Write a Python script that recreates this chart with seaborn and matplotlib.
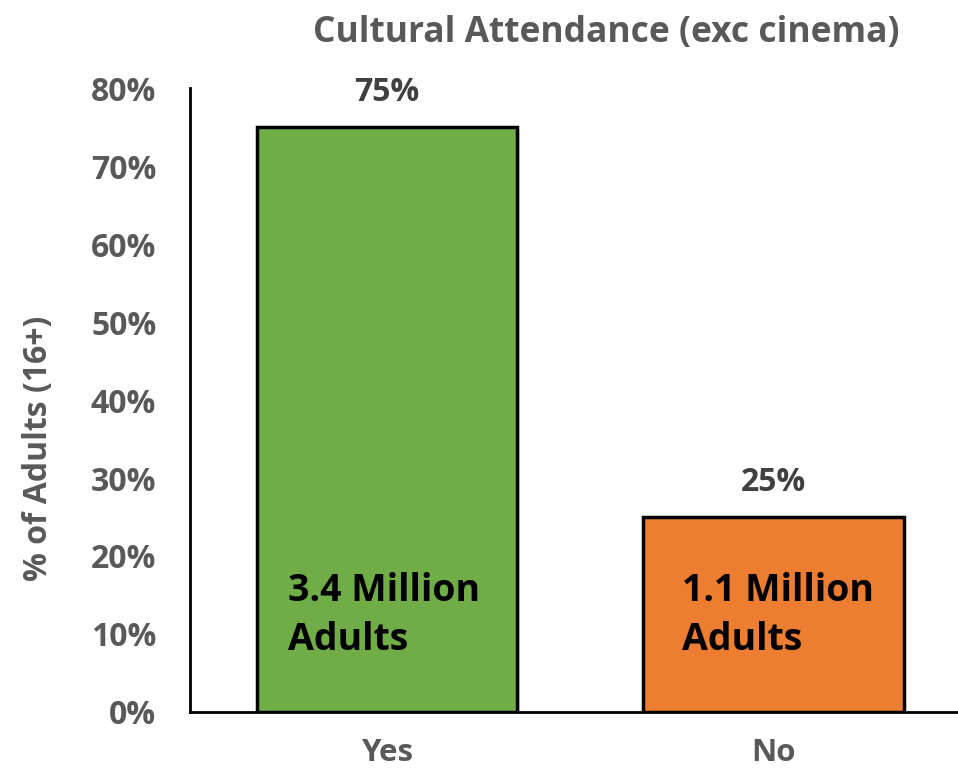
import matplotlib
matplotlib.use("Agg")
import matplotlib.pyplot as plt
import matplotlib.patheffects as pe
import seaborn as sns
import pandas as pd

categories = ["Yes", "No"]
percent_values = [75, 25]
value_labels = ["75%", "25%"]
inner_labels = ["3.4 Million\nAdults", "1.1 Million\nAdults"]
bar_colors = ["#70AD47", "#ED7D31"]
y_ticks = [0, 10, 20, 30, 40, 50, 60, 70, 80]
y_tick_labels = ["0%", "10%", "20%", "30%", "40%", "50%", "60%", "70%", "80%"]

sns.set_theme(style="white")
plt.rcParams["font.family"] = ["Open Sans", "DejaVu Sans"]

df = pd.DataFrame({"Attendance": categories, "Percent": percent_values})

fig = plt.figure(figsize=(9.58, 7.73), dpi=100)
ax = fig.add_axes([0.198, 0.079, 0.802, 0.807])

sns.barplot(data=df, x="Attendance", y="Percent", hue="Attendance",
            palette=bar_colors, width=0.673, edgecolor="black", linewidth=2.5,
            legend=False, ax=ax, saturation=1)

# soft drop shadow around each bar
for patch in ax.patches:
    patch.set_path_effects([pe.SimplePatchShadow(offset=(2, -2), shadow_rgbFace="#bbbbbb", alpha=0.5),
                            pe.Normal()])

gray = "#595959"
inner_offsets = [-0.256, -0.237]
for i, (v, lab, inner) in enumerate(zip(percent_values, value_labels, inner_labels)):
    ax.text(i, v + 4.4, lab, ha="center", va="center", fontsize=23,
            fontweight="bold", color="#404040")
    ax.text(i + inner_offsets[i], 12.4, inner, ha="left", va="center", fontsize=27,
            fontweight="bold", color="black", linespacing=1.38)

ax.set_xlim(-0.51, 1.477)
ax.set_ylim(0, 80)
ax.set_yticks(y_ticks)
ax.set_yticklabels(y_tick_labels, fontsize=23, fontweight="bold", color=gray)
ax.tick_params(axis="x", labelsize=22.5, colors=gray, pad=19)
for t in ax.get_xticklabels():
    t.set_fontweight("bold")
ax.tick_params(axis="y", pad=24, length=0)
ax.tick_params(axis="x", length=0)

ax.set_xlabel("")
ax.set_ylabel("% of Adults (16+)", fontsize=23, fontweight="bold", color=gray, labelpad=26)
ax.yaxis.label.set_y(0.423)
ax.set_title("Cultural Attendance (exc cinema)", fontsize=25.5, fontweight="bold",
             color=gray, x=0.542, pad=33)

for side in ["top", "right"]:
    ax.spines[side].set_visible(False)
for side in ["left", "bottom"]:
    ax.spines[side].set_color("black")
    ax.spines[side].set_linewidth(2)

fig.savefig("out.png", dpi=100)
